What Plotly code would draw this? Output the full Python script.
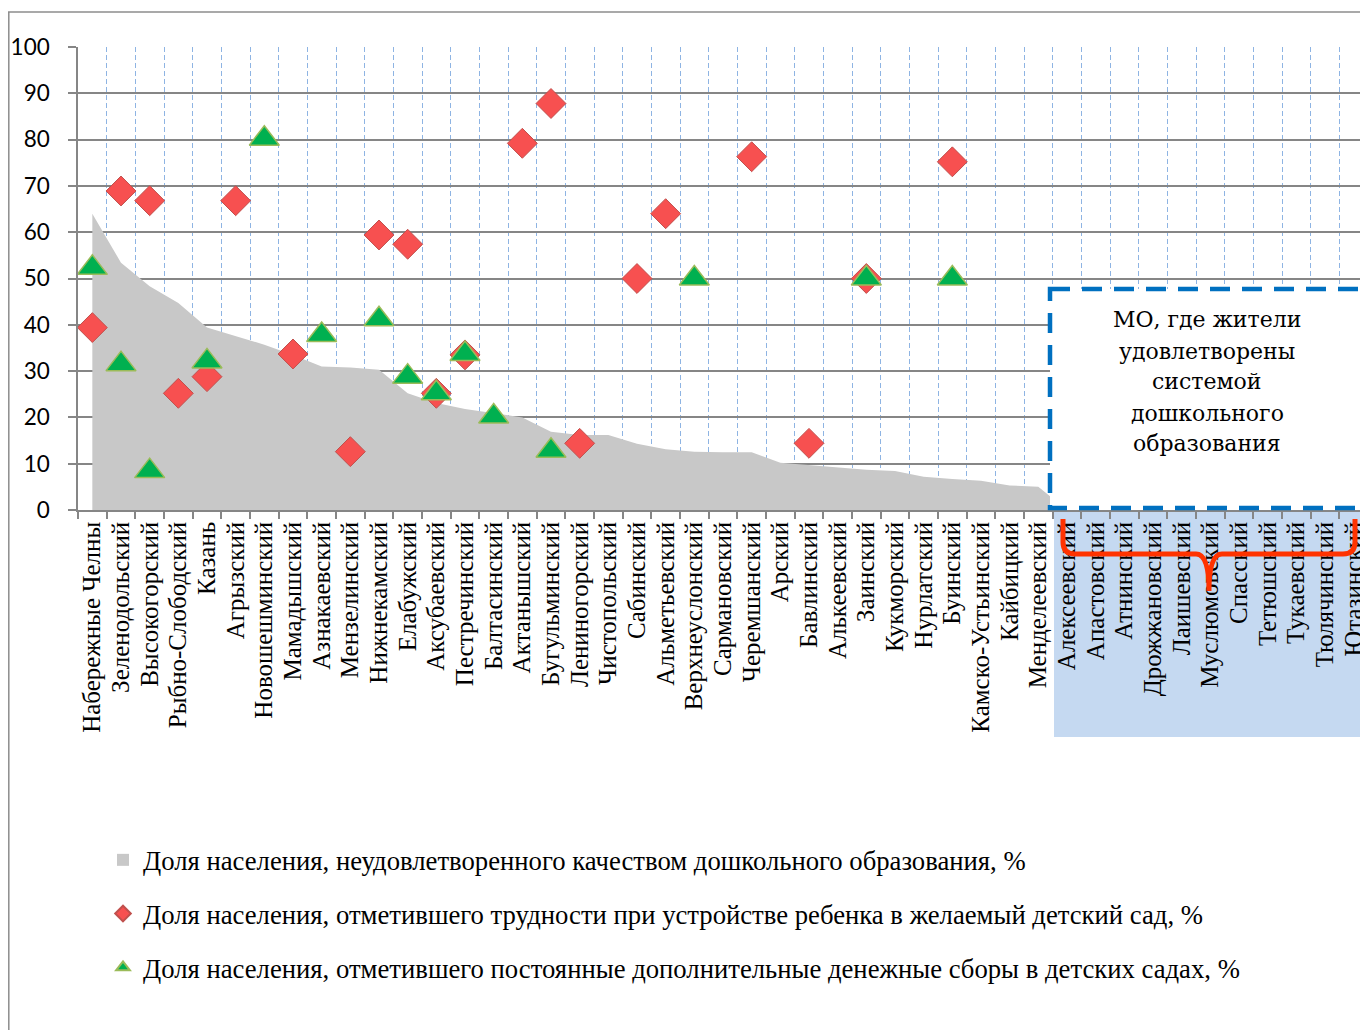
import plotly.graph_objects as go

categories = ["Набережные Челны", "Зеленодольский", "Высокогорский", "Рыбно-Слободский", "Казань",
              "Агрызский", "Новошешминский", "Мамадышский", "Азнакаевский", "Мензелинский",
              "Нижнекамский", "Елабужский", "Аксубаевский", "Пестречинский", "Балтасинский",
              "Актанышский", "Бугульминский", "Лениногорский", "Чистопольский", "Сабинский",
              "Альметьевский", "Верхнеуслонский", "Сармановский", "Черемшанский", "Арский",
              "Бавлинский", "Алькеевский", "Заинский", "Кукморский", "Нурлатский",
              "Буинский", "Камско-Устьинский", "Кайбицкий", "Менделеевский", "Алексеевский",
              "Апастовский", "Атнинский", "Дрожжановский", "Лаишевский", "Муслюмовский",
              "Спасский", "Тетюшский", "Тукаевский", "Тюлячинский", "Ютазинский"]

unsatisfied = [64.0, 53.4, 48.3, 44.7, 39.4, 37.5, 35.7, 33.5, 31.0, 30.8,
               30.3, 25.2, 23.1, 21.8, 20.9, 20.0, 16.9, 16.2, 16.2, 14.3,
               13.1, 12.6, 12.5, 12.5, 10.2, 9.7, 9.2, 8.7, 8.4, 7.2,
               6.7, 6.3, 5.3, 5.0, 0, 0, 0, 0, 0, 0,
               0, 0, 0, 0, 0]

difficulties = [39.4, 68.9, 66.8, 25.2, 28.8, 66.8, None, 33.7, None, 12.6,
                59.4, 57.4, 25.2, 33.5, None, 79.2, 87.8, 14.4, None, 50.0,
                64.0, None, None, 76.3, None, 14.4, None, 50.0, None, None,
                75.2, None, None, None, None, None, None, None, None, None,
                None, None, None, None, None]

fees = [52.3, 31.5, 8.4, None, 32.1, None, 80.2, None, 37.8, None,
        41.2, 28.8, 25.2, 33.7, 20.2, None, 12.8, None, None, None,
        None, 50.0, None, None, None, None, None, 50.0, None, None,
        50.0, None, None, None, None, None, None, None, None, None,
        None, None, None, None, None]

series_names = ["Доля населения, неудовлетворенного качеством дошкольного образования, %",
                "Доля населения, отметившего трудности при устройстве ребенка в желаемый детский сад, %",
                "Доля населения, отметившего постоянные дополнительные денежные сборы в детских садах, %"]

box_lines = ["МО, где жители", "удовлетворены", "системой", "дошкольного", "образования"]
y_ticks = list(range(0, 101, 10))

# page offset (default body margin of the html page)
OFF = 8
W, H = 1368 - OFF, 1030 - OFF
L = 78 - OFF
T = 47 - OFF
B = H - (510 - OFF)
R = 0
PW = W - L - R
PH = H - T - B


def px(x):
    """page pixel x -> paper x"""
    return (x - OFF - L) / PW


def py(y):
    """page pixel y -> paper y"""
    return (H - B - (y - OFF)) / PH


fig = go.Figure()
fig.add_trace(go.Scatter(x=categories, y=unsatisfied, mode="lines", fill="tozeroy",
                         line=dict(width=0, color="#C8C8C8"), fillcolor="#C8C8C8",
                         name=series_names[0], legendgroup="a", showlegend=False))
# legend key for the area series (square swatch, as in the original)
fig.add_trace(go.Scatter(x=[categories[0]], y=[None], mode="markers",
                         marker=dict(symbol="square", size=12, color="#C8C8C8"),
                         name=series_names[0], legendgroup="a", showlegend=True))
fig.add_trace(go.Scatter(x=categories, y=difficulties, mode="markers",
                         marker=dict(symbol="diamond", size=23, color="#F75050",
                                     line=dict(color="#C0504D", width=1)),
                         name=series_names[1], legendgroup="b"))
fig.add_trace(go.Scatter(x=categories, y=fees, mode="markers",
                         marker=dict(symbol="triangle-up", size=26, color="#00B050",
                                     line=dict(color="#9BBB59", width=1.5)),
                         name=series_names[2], legendgroup="c"))

shapes = []
# outer chart frame
shapes.append(dict(type="line", xref="paper", yref="paper", x0=px(8.8), x1=px(8.8), y0=py(12), y1=py(1045),
                   line=dict(color="#8C8C8C", width=1.5)))
shapes.append(dict(type="line", xref="paper", yref="paper", x0=px(8), x1=px(1380), y0=py(12), y1=py(12),
                   line=dict(color="#8C8C8C", width=1.5)))
# blue shaded band behind the satisfied-group labels
shapes.append(dict(type="rect", xref="paper", yref="paper", x0=px(1054), x1=px(1362), y0=py(511), y1=py(737),
                   fillcolor="#C5D9F1", line=dict(width=0), layer="below"))
# dashed callout box
shapes.append(dict(type="rect", xref="paper", yref="paper", x0=px(1050), x1=px(1365), y0=py(289), y1=py(508),
                   fillcolor="white", line=dict(color="#0070C0", width=4.5, dash="20px,12px"), layer="above"))
# brace
pts = [("M", 1063, 519), ("L", 1063, 542), ("Q", 1063, 554, 1075, 554), ("L", 1196, 554),
       ("Q", 1209, 554, 1209, 591), ("Q", 1209, 554, 1222, 554), ("L", 1343, 554),
       ("Q", 1355, 554, 1355, 542), ("L", 1355, 519)]
path = ""
for p in pts:
    cmd = p[0]
    coords = p[1:]
    s = []
    for i in range(0, len(coords), 2):
        s.append(f"{px(coords[i]):.5f},{py(coords[i+1]):.5f}")
    path += cmd + " " + " ".join(s) + " "
shapes.append(dict(type="path", xref="paper", yref="paper", path=path.strip(),
                   line=dict(color="#FF3300", width=5), layer="above"))

annotations = []
line_y = [319, 351, 382, 413, 443]
for txt, yy in zip(box_lines, line_y):
    annotations.append(dict(xref="paper", yref="paper", x=px(1207), y=py(yy), text=txt, showarrow=False,
                            xanchor="center", yanchor="middle",
                            font=dict(family="DejaVu Serif", size=22, color="black")))

fig.update_layout(
    width=W, height=H,
    margin=dict(l=L, r=R, t=T, b=B, pad=0),
    paper_bgcolor="white", plot_bgcolor="white",
    shapes=shapes, annotations=annotations,
    showlegend=True,
    legend=dict(x=px(103), y=py(836), xanchor="left", yanchor="top",
                font=dict(family="Liberation Serif", size=26.7, color="black"),
                traceorder="grouped", tracegroupgap=16, bgcolor="rgba(0,0,0,0)",
                itemsizing="constant"),
    xaxis=dict(type="category", categoryorder="array", categoryarray=categories,
               tickmode="array", tickvals=categories, ticktext=categories,
               range=[-0.5, len(categories) - 0.5], tickson="boundaries",
               showgrid=True, gridcolor="#8EB4E3", gridwidth=1, griddash="5px,3px",
               showline=True, linecolor="#868686", linewidth=1.5,
               ticks="outside", ticklen=7, tickcolor="#868686", tickwidth=1.5,
               tickangle=-90, tickfont=dict(family="Liberation Serif", size=25, color="black"),
               zeroline=False),
    yaxis=dict(range=[0, 100], tickvals=y_ticks, showgrid=True, gridcolor="#868686", gridwidth=1.5,
               showline=True, linecolor="#868686", linewidth=1.5,
               ticks="outside", ticklen=8, tickcolor="#868686", tickwidth=1.5,
               ticklabelstandoff=14,
               tickfont=dict(family="Lato", size=22.5, color="black"), zeroline=False),
)

fig.write_html("out.html")
